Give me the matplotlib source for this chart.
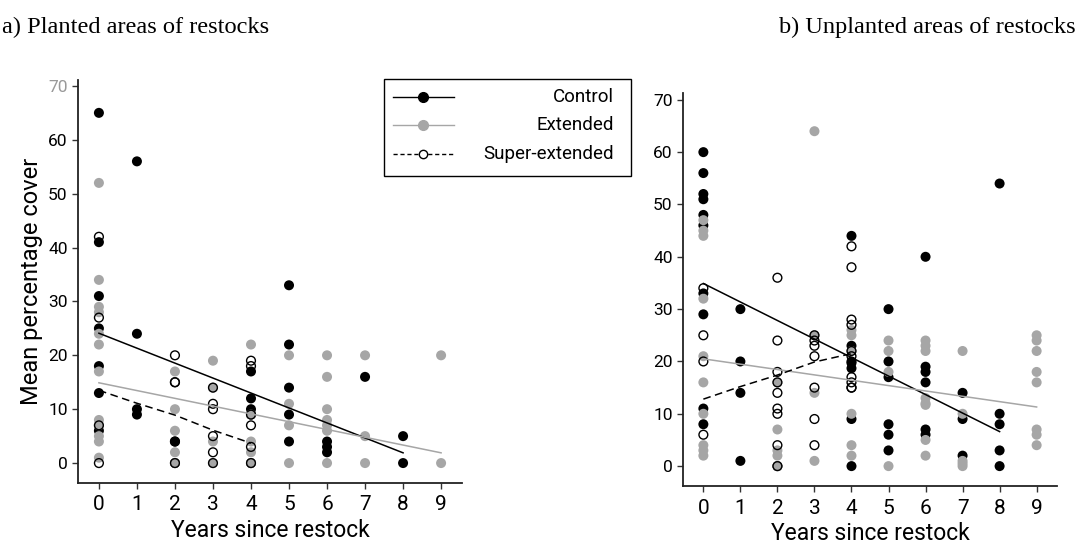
import matplotlib.pyplot as plt
from matplotlib.lines import Line2D
from matplotlib.patches import Rectangle

GREY = "#a6a6a6"

# ---- a) planted areas ----
a_ctrl_x = [0]*7 + [1]*4 + [2]*2 + [4]*5 + [5]*5 + [6]*3 + [7] + [8]*2
a_ctrl_y = [65, 41, 31, 25, 18, 13, 6,
            56, 24, 10, 9,
            4, 0,
            17, 12, 10, 9, 0,
            33, 22, 14, 9, 4,
            4, 3, 2,
            16,
            5, 0]
a_ext_x = [0]*12 + [2]*5 + [3]*4 + [4]*5 + [5]*4 + [6]*7 + [7]*3 + [9]*2
a_ext_y = [52, 34, 29, 28, 24, 22, 17, 8, 7, 5, 4, 1,
           17, 10, 6, 2, 0,
           19, 14, 4, 0,
           22, 9, 4, 2, 0,
           20, 11, 7, 0,
           20, 16, 10, 8, 7, 6, 0,
           20, 5, 0,
           20, 0]
a_sup_x = [0]*4 + [2]*5 + [3]*6 + [4]*6
a_sup_y = [42, 27, 7, 0,
           20, 15, 15, 4, 0,
           14, 11, 10, 5, 2, 0,
           19, 18, 9, 7, 3, 0]
a_ctrl_fit_x = [0, 8]
a_ctrl_fit_y = [24.1, 1.9]
a_ext_fit_x = [0, 9]
a_ext_fit_y = [14.9, 1.9]
a_sup_fit_x = [0, 1, 2, 3, 4]
a_sup_fit_y = [13.5, 11.1, 8.9, 6.1, 3.7]

# ---- b) unplanted areas ----
b_ctrl_x = [0]*10 + [1]*4 + [2] + [4]*7 + [5]*6 + [6]*6 + [7]*3 + [8]*5
b_ctrl_y = [60, 56, 52, 51, 48, 46, 33, 29, 11, 8,
            30, 20, 14, 1,
            0,
            44, 23, 20, 19.7, 18.7, 9, 0,
            30, 20, 17, 8, 6, 3,
            40, 19, 18, 16, 7, 6,
            14, 9, 2,
            54, 10, 8, 3, 0]
b_ext_x = [0]*10 + [2]*5 + [3]*4 + [4]*6 + [5]*4 + [6]*8 + [7]*5 + [9]*8
b_ext_y = [47, 45, 44, 32, 21, 16, 10, 4, 3, 2,
           16, 7, 3, 2, 0,
           64, 25, 14, 1,
           26, 25, 22, 10, 4, 2,
           24, 22, 18, 0,
           24, 23, 22, 13, 12, 11.7, 5, 2,
           22, 10, 1, 0.5, 0,
           25, 24, 22, 18, 16, 7, 6, 4]
b_sup_x = [0]*4 + [2]*9 + [3]*7 + [4]*10
b_sup_y = [34, 25, 20, 6,
           36, 24, 18, 16, 14, 11, 10, 4, 0,
           25, 24, 23, 21, 15, 9, 4,
           42, 38, 28, 27, 22, 21, 17, 16, 15, 15]
b_ctrl_fit_x = [0, 8]
b_ctrl_fit_y = [34.9, 6.6]
b_ext_fit_x = [0, 9]
b_ext_fit_y = [20.5, 11.3]
b_sup_fit_x = [0, 1, 2, 3, 4]
b_sup_fit_y = [12.8, 15.2, 17.4, 19.9, 21.5]

years = list(range(10))
yticks = [0, 10, 20, 30, 40, 50, 60, 70]

plt.rcParams['font.family'] = ['Roboto', 'DejaVu Sans']

fig = plt.figure(figsize=(10.78, 5.52), dpi=100)
ax1 = fig.add_axes([78/1078, 69/552, 384/1078, 403/552])
ax2 = fig.add_axes([683/1078, 66/552, 374/1078, 393/552])


def draw_panel(ax, cx, cy, ex, ey, sx, sy, fits, ylo, yhi):
    ax.scatter(cx, cy, s=52, color="black", edgecolors="none", zorder=3)
    ax.scatter(ex, ey, s=52, color=GREY, edgecolors="none", zorder=4)
    ax.scatter(sx, sy, s=40, facecolors="none", edgecolors="black",
               linewidths=1.0, zorder=5)
    (fcx, fcy), (fex, fey), (fsx, fsy) = fits
    ax.plot(fcx, fcy, color="black", lw=1.1, zorder=6)
    ax.plot(fex, fey, color=GREY, lw=1.1, zorder=6)
    ax.plot(fsx, fsy, color="black", lw=1.1, ls=(0, (5, 3)), zorder=6)
    ax.set_xlim(-0.55, 9.55)
    ax.set_ylim(ylo, yhi)
    ax.set_xticks(years)
    ax.set_yticks(yticks)
    ax.tick_params(axis="x", labelsize=15, length=4, width=1, color="#333333", pad=5)
    ax.tick_params(axis="y", labelsize=12.5, length=4, width=1, color="#333333")
    for side in ["top", "right"]:
        ax.spines[side].set_visible(False)
    for side in ["left", "bottom"]:
        ax.spines[side].set_linewidth(1.3)
        ax.spines[side].set_color("#222222")
    ax.set_xlabel("Years since restock", fontsize=16.5, labelpad=3)


draw_panel(ax1, a_ctrl_x, a_ctrl_y, a_ext_x, a_ext_y, a_sup_x, a_sup_y,
           [(a_ctrl_fit_x, a_ctrl_fit_y), (a_ext_fit_x, a_ext_fit_y),
            (a_sup_fit_x, a_sup_fit_y)], -3.7, 71.1)
draw_panel(ax2, b_ctrl_x, b_ctrl_y, b_ext_x, b_ext_y, b_sup_x, b_sup_y,
           [(b_ctrl_fit_x, b_ctrl_fit_y), (b_ext_fit_x, b_ext_fit_y),
            (b_sup_fit_x, b_sup_fit_y)], -3.8, 71.3)

ax1.set_ylabel("Mean percentage cover", fontsize=17, labelpad=4)
ax1.get_yticklabels()[-1].set_color("#999999")

# titles
fig.text(2/1078, 1 - 33/552, "a) Planted areas of restocks", fontsize=17.6,
         family="Liberation Serif", ha="left", va="baseline")
fig.text(1076/1078, 1 - 33/552, "b) Unplanted areas of restocks", fontsize=17.6,
         family="Liberation Serif", ha="right", va="baseline")

# legend box
fig.add_artist(Rectangle((384/1078, 1 - 176/552), 247/1078, 97/552,
                         transform=fig.transFigure, fill=False,
                         edgecolor="black", lw=1.0))
labels = ["Control", "Extended", "Super-extended"]
styles = [dict(color="black", ls="-", mfc="black", mec="black", ms=7),
          dict(color=GREY, ls="-", mfc=GREY, mec=GREY, ms=7),
          dict(color="black", ls=(0, (3, 2)), mfc="white", mec="black", ms=6)]
rows = [97, 125, 154]
for lab, st, ry in zip(labels, styles, rows):
    yy = 1 - ry/552
    fig.add_artist(Line2D([393/1078, 454/1078], [yy, yy], transform=fig.transFigure,
                          lw=1.0, color=st["color"], ls=st["ls"]))
    fig.add_artist(Line2D([423/1078], [yy], transform=fig.transFigure,
                          ls="none", marker="o", mfc=st["mfc"], mec=st["mec"],
                          ms=st["ms"]))
    fig.text(614/1078, yy, lab, fontsize=13.5, ha="right", va="center")

fig.savefig("out.png", dpi=100)
